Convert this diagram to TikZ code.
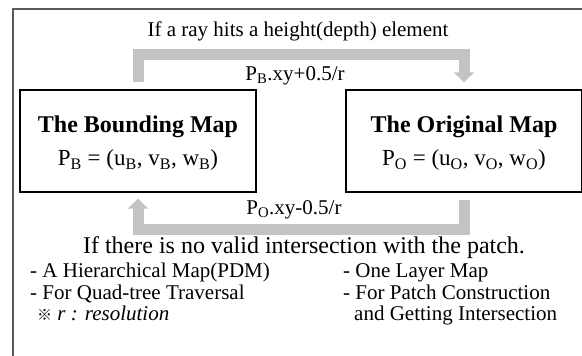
\documentclass[tikz,border=0pt]{standalone}
\usepackage{fontspec}
\setmainfont{Liberation Serif}
\newfontfamily\cjkfont{Noto Sans CJK SC}
\usetikzlibrary{arrows.meta}
\definecolor{framegray}{HTML}{5A5A5A}
\definecolor{arrowgray}{HTML}{C3C3C3}
\tikzset{
  mapbox/.style={draw=black, line width=1.4pt, minimum width=236pt, minimum height=102pt, align=center, inner sep=0pt, font=\fontsize{23}{33}\selectfont},
  bigarrow/.style={draw=arrowgray, line width=11pt, line join=miter, -{Triangle[length=10pt,width=20pt]}},
  lbl/.style={font=\fontsize{21}{24}\selectfont, inner sep=0pt},
  bul/.style={font=\fontsize{21}{24}\selectfont, inner sep=0pt, anchor=base west}
}
\begin{document}
\begin{tikzpicture}[x=1pt,y=-1pt]
\useasboundingbox (0,0) rectangle (582,356);
\draw[framegray, line width=1.5pt] (13,357) -- (13,9) -- (583,9);
\node[mapbox] (bm) at (138,141) {\rule{0pt}{26pt}{\fontsize{24}{33}\selectfont\textbf{The Bounding Map}}\\P\textsubscript{B} = (u\textsubscript{B}, v\textsubscript{B}, w\textsubscript{B})\strut};
\node[mapbox] (om) at (464,141) {\rule{0pt}{26pt}{\fontsize{24}{33}\selectfont\textbf{The Original Map}}\\P\textsubscript{O} = (u\textsubscript{O}, v\textsubscript{O}, w\textsubscript{O})\strut};
\draw[bigarrow] ([yshift=7pt]bm.north) -- ++(0,-28) -| ([yshift=7pt]om.north);
\draw[bigarrow] ([yshift=-7pt]om.south) -- ++(0,30) -| ([yshift=-6pt]bm.south);
\node[lbl] (t1) at (298,31) {If a ray hits a height(depth) element};
\node[lbl] (t2) at (295,76) {P\textsubscript{B}.xy+0.5/r};
\node[lbl] (t3) at (294,210) {P\textsubscript{O}.xy-0.5/r};
\node[lbl, font=\fontsize{24}{26}\selectfont] (t4) at (304,248) {If there is no valid intersection with the patch.};
\node[bul] (l1) at (30,277) {- A Hierarchical Map(PDM)};
\node[bul] (l2) at (30,299) {- For Quad-tree Traversal};
\node[bul] (l3) at (37,320) {{\cjkfont\fontsize{15}{16}\selectfont ※} \textit{r : resolution}};
\node[bul] (r1) at (343,277) {- One Layer Map};
\node[bul] (r2) at (343,299) {- For Patch Construction};
\node[bul] (r3) at (354,320) {and Getting Intersection};
\end{tikzpicture}
\end{document}
